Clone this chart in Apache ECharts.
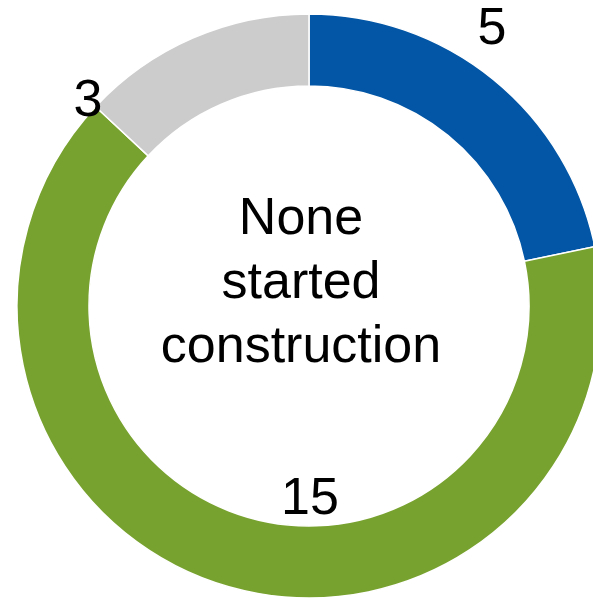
<!DOCTYPE html>
<html>
<head>
<meta charset="utf-8">
<script src="https://cdn.jsdelivr.net/npm/echarts@6/dist/echarts.min.js"></script>
<style>
  html, body { margin: 0; padding: 0; background: #fff; }
  #chart { width: 593px; height: 599px; }
</style>
</head>
<body>
<div id="chart"></div>
<script>
// data
const categories = ['Blue', 'Green', 'Grey'];
const values = [5, 15, 3];
const colors = ['#0256A5', '#78A22F', '#CCCCCC'];
const centerText = 'None\nstarted\nconstruction';

// where the value labels sit (layout only)
const labelPos = [[492, 30], [310, 500], [88, 102]];

const chart = echarts.init(document.getElementById('chart'));

const option = {
  animation: false,
  series: [
    {
      type: 'pie',
      center: [309, 306],
      radius: [220, 292],
      startAngle: 90,
      clockwise: true,
      label: { show: false },
      labelLine: { show: false },
      itemStyle: { borderColor: '#fff', borderWidth: 1.5 },
      data: categories.map((name, i) => ({
        name: name,
        value: values[i],
        itemStyle: { color: colors[i] },
      })),
    },
  ],
  graphic: [
    {
      type: 'text',
      x: 301,
      y: 284,
      z: 10,
      style: {
        text: centerText,
        font: '52px "Liberation Sans", Arial, sans-serif',
        lineHeight: 64,
        fill: '#000',
        align: 'center',
        verticalAlign: 'middle',
      },
    },
  ].concat(values.map((v, i) => ({
    type: 'text',
    x: labelPos[i][0],
    y: labelPos[i][1],
    z: 10,
    style: {
      text: String(v),
      font: '52px "Liberation Sans", Arial, sans-serif',
      fill: '#000',
      align: 'center',
      verticalAlign: 'middle',
    },
  }))),
};

chart.setOption(option);
</script>
</body>
</html>
